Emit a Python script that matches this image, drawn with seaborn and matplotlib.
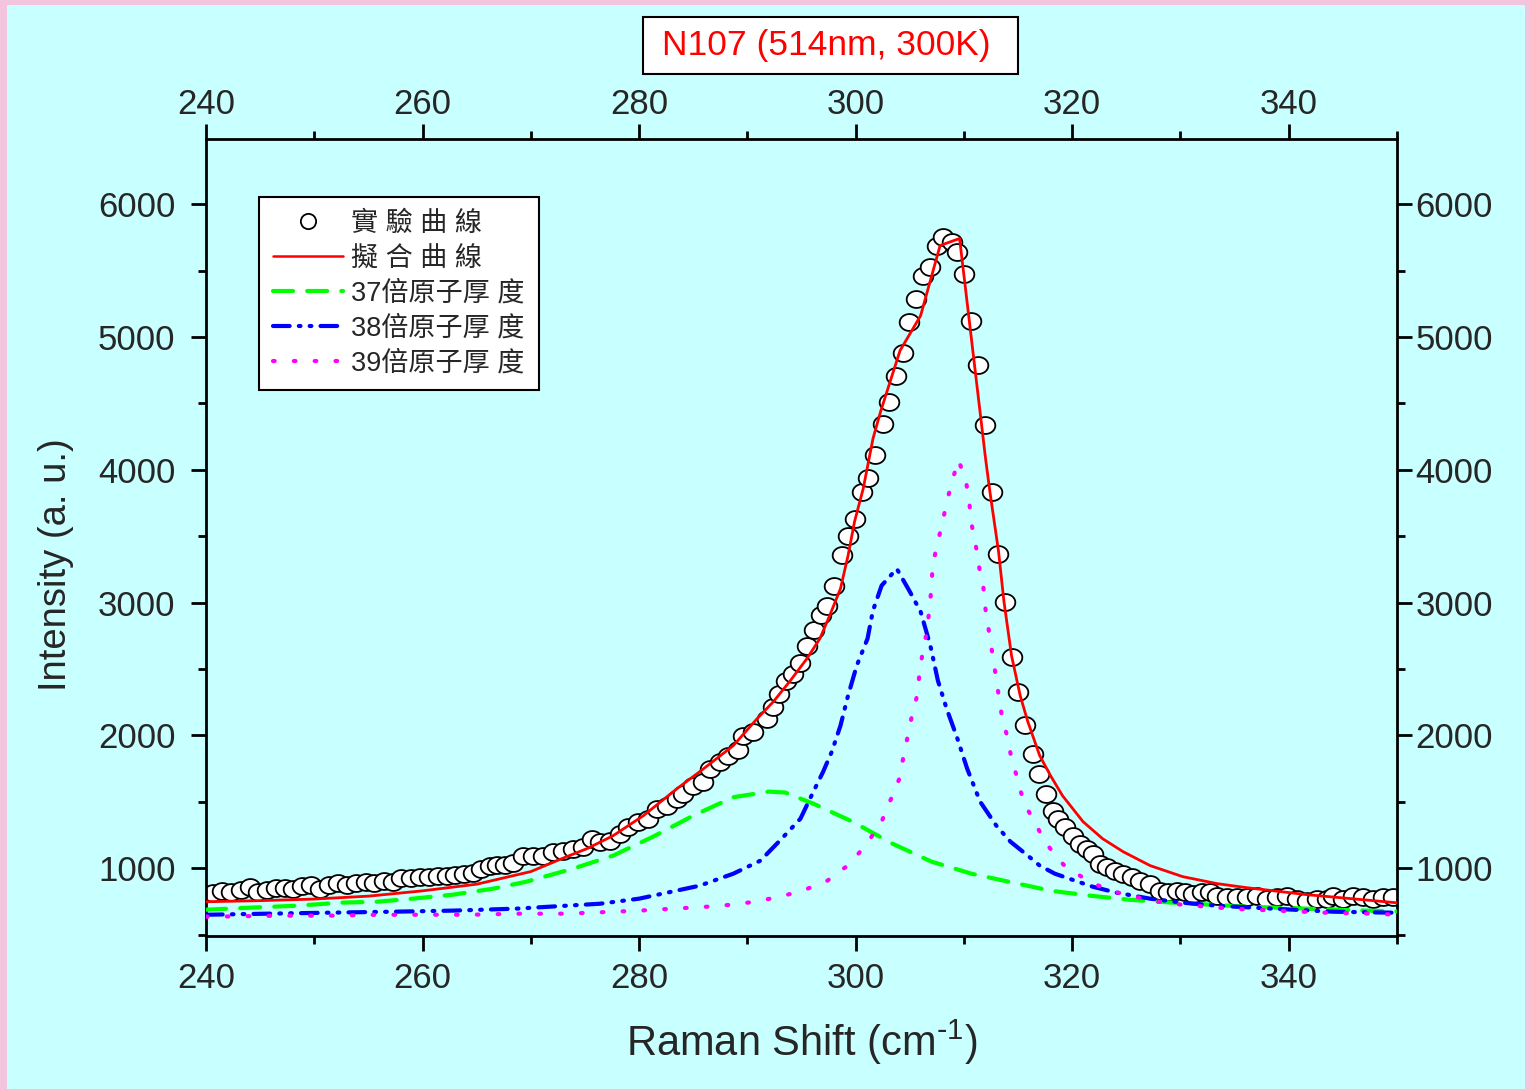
import numpy as np
import pandas as pd
import matplotlib
matplotlib.use("Agg")
import matplotlib.pyplot as plt
from matplotlib.path import Path
from matplotlib.lines import Line2D
from matplotlib.patches import Rectangle
from matplotlib.ticker import MultipleLocator
from matplotlib.transforms import ScaledTranslation
import seaborn as sns

# ---- measured spectrum (open circles) ----
exp_shift = [
    240.65, 241.48, 242.31, 243.23, 244.06, 244.80, 245.63, 246.47, 247.30, 248.04,
    248.87, 249.70, 250.53, 251.36, 252.19, 253.02, 253.85, 254.78, 255.52, 256.44,
    257.27, 258.01, 258.93, 259.77, 260.60, 261.43, 262.26, 263.00, 263.83, 264.66,
    265.40, 266.23, 266.88, 267.62, 268.35,
    269.28, 270.20, 271.13, 272.05, 272.97, 273.90, 274.82, 275.65, 276.39, 277.31,
    278.24, 278.98, 279.90, 280.82, 281.66, 282.58, 283.50, 284.06, 284.98, 285.91,
    286.56, 287.47, 288.21, 289.14, 289.60, 290.52, 291.81, 292.37, 292.92, 293.57,
    294.22, 294.86, 295.51, 296.16, 296.80, 297.35, 298.00, 298.74, 299.30, 299.94,
    300.59, 301.14, 301.79, 302.53, 303.08, 303.73, 304.38, 304.93, 305.58, 306.22,
    306.87, 307.52, 308.07, 308.90, 309.36, 310.01, 310.66, 311.30, 311.95, 312.60,
    313.15, 313.80, 314.44, 315.00, 315.64, 316.38, 316.94, 317.58, 318.23, 318.69,
    319.34, 320.08, 320.72, 321.37, 321.93, 322.57, 323.22, 323.96, 324.70, 325.53,
    326.27, 327.19, 328.11, 328.85, 329.68, 330.42, 331.16, 331.99, 332.73, 333.38,
    334.30, 335.22, 336.15, 337.07, 337.99, 338.92, 339.84, 340.77, 341.69, 342.61,
    343.54, 344.09, 345.01, 345.94, 346.86, 347.78, 348.71, 349.63,
]
exp_intensity = [
    816, 831, 824, 839, 861, 824, 839, 854, 854, 846,
    869, 876, 846, 876, 891, 876, 891, 899, 891, 907,
    899, 929, 929, 937, 937, 944, 944, 952, 959, 967,
    997, 1019, 1027, 1027, 1042,
    1095, 1095, 1095, 1125, 1132, 1147, 1162, 1223, 1200, 1208,
    1260, 1313, 1351, 1373, 1449, 1471, 1524, 1561, 1622, 1652,
    1750, 1802, 1848, 1893, 1998, 2028, 2126, 2216, 2314, 2412,
    2465, 2548, 2676, 2796, 2909, 2977, 3127, 3361, 3504, 3632,
    3835, 3940, 4113, 4347, 4512, 4708, 4881, 5114, 5288, 5461,
    5529, 5687, 5754, 5717, 5642, 5476, 5122, 4791, 4339, 3835,
    3368, 3007, 2593, 2329, 2081, 1863, 1712, 1561, 1433, 1373,
    1313, 1245, 1185, 1147, 1110, 1034, 1012, 982, 959, 937,
    907, 884, 831, 824, 831, 824, 809, 824, 824, 794,
    786, 786, 786, 794, 771, 786, 794, 771, 756, 771,
    771, 794, 771, 794, 786, 771, 786, 786,
]

# ---- fitted sum (red) ----
fit_shift = [240.0, 245.0, 250.0, 255.0, 260.0, 265.0, 270.0, 273.3, 275.2, 277.6,
             280.4, 283.5, 285.6, 288.7, 290.9, 292.4, 293.9, 295.5, 296.7, 297.6,
             298.6, 299.3, 299.9, 300.7, 301.6, 302.3, 304.1, 306.0, 307.8, 309.6,
             312.0, 312.4, 313.2, 313.7, 314.4, 315.2, 315.9, 317.0, 318.0, 319.1,
             321.0, 322.8, 324.7, 327.2, 330.2, 333.4, 336.1, 341.7, 350.0]
fit_intensity = [748, 756, 768, 790, 830, 880, 975, 1087, 1148, 1245,
                 1396, 1599, 1727, 1923, 2126, 2254, 2405, 2578, 2729, 2902,
                 3105, 3354, 3610, 3858, 4234, 4437, 4897, 5160, 5688, 5741,
                 4084, 3835, 3384, 3007, 2600, 2299, 2104, 1848, 1697, 1547,
                 1351, 1223, 1125, 1020, 937, 884, 854, 801, 740]

# ---- component: 37 atomic layers (green) ----
l37_shift = [240.0, 244.0, 248.4, 252.4, 255.8, 259.1, 262.8, 266.5, 269.6, 273.9,
             277.6, 281.3, 285.0, 288.7, 292.0, 293.5, 296.1, 299.7, 303.4, 307.0,
             310.7, 318.0, 321.6, 325.3, 329.3, 336.1, 341.7, 347.2, 350.0]
l37_intensity = [688, 703, 718, 741, 748, 771, 801, 846, 899, 997,
                 1095, 1238, 1396, 1535, 1577, 1570, 1486, 1351, 1185, 1050,
                 959, 831, 794, 763, 741, 711, 696, 681, 675]

# ---- component: 38 atomic layers (blue) ----
l38_shift = [240.0, 245.6, 251.7, 257.3, 262.8, 268.7, 276.4, 280.0, 285.6, 288.7,
             291.2, 293.0, 294.9, 296.1, 297.0, 297.8, 298.6, 299.3, 300.1, 301.1,
             301.6, 302.4, 303.8, 305.0, 306.0, 306.9, 307.6, 308.4, 309.4, 310.3,
             311.5, 313.0, 314.3, 315.9, 317.0, 318.4, 320.0, 321.9, 324.1, 327.2,
             330.2, 333.4, 338.5, 344.1, 350.0]
l38_intensity = [650, 658, 666, 673, 681, 696, 733, 771, 869, 959,
                 1057, 1208, 1373, 1577, 1727, 1878, 2074, 2300, 2525, 2729,
                 2940, 3128, 3255, 3083, 2932, 2676, 2412, 2202, 1976, 1750,
                 1501, 1320, 1200, 1095, 1020, 959, 914, 861, 816, 771,
                 741, 718, 696, 673, 665]

# ---- component: 39 atomic layers (magenta) ----
l39_shift = [240.0, 247.0, 251.5, 255.8, 260.0, 264.4, 269.0, 273.3, 280.0, 286.4,
             288.6, 290.7, 293.0, 295.1, 297.4, 299.5, 301.1, 302.4, 303.2, 304.0,
             304.4, 304.8, 305.2, 305.7, 305.9, 306.2, 306.6, 306.8, 307.0, 307.1,
             307.5, 308.0, 308.4, 308.9, 309.5, 310.2, 310.5, 310.7, 311.1, 311.4,
             311.8, 312.0, 312.3, 312.6, 312.9, 313.2, 313.5, 314.0, 314.4, 315.0,
             315.5, 316.5, 317.6, 319.2, 321.4, 323.5, 325.8, 327.9, 330.1, 334.6,
             338.9, 343.2, 347.8, 350.0]
l39_intensity = [635, 643, 643, 650, 650, 650, 658, 658, 681, 711,
                 726, 748, 786, 831, 907, 1035, 1193, 1351, 1509, 1667,
                 1833, 1991, 2149, 2307, 2472, 2631, 2789, 2947, 3105, 3270,
                 3429, 3594, 3752, 3911, 4075, 3911, 3752, 3594, 3429, 3270,
                 3112, 2947, 2789, 2631, 2472, 2307, 2149, 1991, 1825, 1660,
                 1501, 1351, 1185, 1027, 907, 831, 786, 748, 726, 696,
                 681, 666, 658, 650]

x_ticks = [240, 260, 280, 300, 320, 340]
y_ticks = [1000, 2000, 3000, 4000, 5000, 6000]

legend_labels = ["實 驗 曲 線", "擬 合 曲 線", "37倍原子厚 度", "38倍原子厚 度", "39倍原子厚 度"]
title_text = "N107 (514nm, 300K)"

sns.set_style("ticks")
plt.rcParams["font.family"] = ["Liberation Sans", "Noto Sans CJK TC", "DejaVu Sans"]
plt.rcParams["mathtext.default"] = "regular"
plt.rcParams["axes.unicode_minus"] = False

CYAN = "#C8FFFF"
PINK = "#F2C4DE"

fig = plt.figure(figsize=(15.3, 10.89), dpi=100, facecolor=PINK)
fig.patches.append(Rectangle((7 / 1530, 0), 1518 / 1530, 1 - 5 / 1089,
                             transform=fig.transFigure, facecolor=CYAN,
                             edgecolor="none", zorder=-10))

ax = fig.add_axes([206 / 1530, 1 - 936 / 1089, 1191 / 1530, 797 / 1089])
ax.set_zorder(1)
ax.set_facecolor(CYAN)

# slightly flattened open-circle marker
t = np.linspace(0, 2 * np.pi, 73)
ell = Path(np.column_stack([np.cos(t), 0.86 * np.sin(t)]), closed=True)

df_exp = pd.DataFrame({"shift": exp_shift, "intensity": exp_intensity})
sns.scatterplot(data=df_exp, x="shift", y="intensity", marker=ell, s=200,
                facecolor="white", edgecolor="black", linewidth=1.3,
                ax=ax, zorder=2, legend=False)

GREEN_LS = (0, (4.8, 3.4))
BLUE_LS = (0, (4.0, 2.2, 0.4, 2.2, 0.4, 2.2))
PINK_LS = (0, (0.4, 4.6))

curves = [
    (l37_shift, l37_intensity, "#00FF00", GREEN_LS),
    (l38_shift, l38_intensity, "#0000FF", BLUE_LS),
    (l39_shift, l39_intensity, "#FF00FF", PINK_LS),
]
for xs, ys, col, ls in curves:
    d = pd.DataFrame({"shift": xs, "intensity": ys})
    sns.lineplot(data=d, x="shift", y="intensity", sort=False, estimator=None,
                 color=col, linestyle=ls, linewidth=3.0, dash_capstyle="round",
                 ax=ax, zorder=3)

df_fit = pd.DataFrame({"shift": fit_shift, "intensity": fit_intensity})
sns.lineplot(data=df_fit, x="shift", y="intensity", sort=False, estimator=None,
             color="#FF0000", linewidth=2.0, ax=ax, zorder=4)

ax.set_xlim(240, 350)
ax.set_ylim(490, 6490)
ax.set_xticks(x_ticks)
ax.set_yticks(y_ticks)
ax.xaxis.set_minor_locator(MultipleLocator(10))
ax.yaxis.set_minor_locator(MultipleLocator(500))
ax.tick_params(which="both", direction="out", top=True, right=True,
               labeltop=True, labelright=True, width=2.0, color="black",
               labelsize=25, pad=6)
ax.tick_params(which="major", length=11)
ax.tick_params(which="minor", length=6)
for sp in ax.spines.values():
    sp.set_linewidth(2.0)
    sp.set_color("black")
    sp.set_visible(True)

# nudge tick labels (points at 100 dpi: 1 px = 0.72 pt)
def nudge(lbl, dx_px, dy_px):
    lbl.set_transform(lbl.get_transform() +
                      ScaledTranslation(dx_px / 100, dy_px / 100, fig.dpi_scale_trans))

for tk in ax.xaxis.get_major_ticks():
    nudge(tk.label1, 0, -2)
    nudge(tk.label2, 0, -6)
for tk in ax.yaxis.get_major_ticks():
    nudge(tk.label1, -7, 0)
    nudge(tk.label2, -5, 0)

ax.set_xlabel(r"Raman Shift (cm$^{\text{-}1}$)", fontsize=30)
ax.set_ylabel("Intensity (a. u.)", fontsize=27.5)
ax.xaxis.set_label_coords(0.5, -0.103)
ax.yaxis.set_label_coords(-0.111, 0.466)

handles = [
    Line2D([], [], marker="o", ls="", mfc="white", mec="black", mew=1.3, ms=11),
    Line2D([], [], color="#FF0000", lw=1.8),
    Line2D([], [], color="#00FF00", lw=3.0, linestyle=GREEN_LS, dash_capstyle="round"),
    Line2D([], [], color="#0000FF", lw=3.0, linestyle=BLUE_LS, dash_capstyle="round"),
    Line2D([], [], color="#FF00FF", lw=3.0, linestyle=PINK_LS, dash_capstyle="round"),
]
leg_x0 = (259 - 206) / 1191
leg_y1 = (936 - 197) / 797
leg_w = 280 / 1191
leg_h = 190 / 797
leg = ax.legend(handles, legend_labels, loc="upper left",
                bbox_to_anchor=(leg_x0, leg_y1 - leg_h, leg_w, leg_h),
                mode="expand", borderaxespad=0, fontsize=19.5, frameon=True,
                fancybox=False, framealpha=1, facecolor="white",
                edgecolor="black", handlelength=2.6, handletextpad=0.3,
                labelspacing=0.33, borderpad=0.5)
leg.get_frame().set_linewidth(1.5)
leg.set_zorder(5)

fig.patches.append(Rectangle((643 / 1530, 1 - 74 / 1089), 375 / 1530, 57 / 1089,
                             transform=fig.transFigure, facecolor="white",
                             edgecolor="black", linewidth=1.5, zorder=1))
fig.text(826.5 / 1530, 1 - 46 / 1089, title_text, color="#FF0000", fontsize=25.5,
         ha="center", va="center", zorder=2)

fig.savefig("out.png", dpi=100, facecolor=fig.get_facecolor())
